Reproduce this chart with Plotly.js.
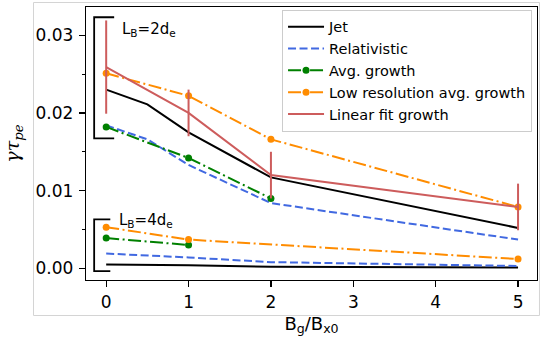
<!DOCTYPE html>
<html><head><meta charset="utf-8">
<script src="https://cdn.plot.ly/plotly-3.0.1.min.js"></script>
<style>html,body{margin:0;padding:0;background:#fff;}#plot{width:540px;height:337px;}</style>
</head><body><div id="plot"></div>
<script>
// L_B = 2 d_e
var jetX2 = [0, 0.5, 1, 2, 5];
var jetY2 = [0.0230, 0.0211, 0.0175, 0.0117, 0.0052];
var relX2 = [0, 0.5, 1, 2, 5];
var relY2 = [0.0184, 0.0166, 0.0133, 0.0084, 0.0037];
var avgX2 = [0, 1, 2];
var avgY2 = [0.0182, 0.0142, 0.0090];
var lowX2 = [0, 1, 2, 5];
var lowY2 = [0.0251, 0.0222, 0.0166, 0.0079];
var fitX2 = [0, 1, 2, 5];
var fitY2 = [0.0259, 0.0200, 0.0120, 0.0079];
var fitErr2 = [0.0060, 0.0030, 0.0030, 0.0030];
// L_B = 4 d_e
var jetX4 = [0, 1, 2, 5];
var jetY4 = [0.0005, 0.0004, 0.0002, 0.0001];
var relX4 = [0, 1, 2, 5];
var relY4 = [0.0019, 0.0014, 0.0008, 0.0003];
var avgX4 = [0, 1];
var avgY4 = [0.0039, 0.0030];
var lowX4 = [0, 1, 5];
var lowY4 = [0.0053, 0.0037, 0.0012];

var cBlack = '#000000', cBlue = '#4169e1', cGreen = '#008000', cOrange = '#ff8c00', cRed = '#cd5c5c';
var LW = 2;
var dashed = '8px,3.5px';
var dashdot = '13px,3.5px,2px,3.5px';

var traces = [
  {x: jetX2, y: jetY2, mode: 'lines', name: 'Jet', line: {color: cBlack, width: LW}},
  {x: relX2, y: relY2, mode: 'lines', name: 'Relativistic', line: {color: cBlue, width: LW, dash: dashed}},
  {x: avgX2, y: avgY2, mode: 'lines+markers', name: 'Avg. growth', line: {color: cGreen, width: LW, dash: dashdot}, marker: {color: cGreen, size: 7}},
  {x: lowX2, y: lowY2, mode: 'lines+markers', name: 'Low resolution avg. growth', line: {color: cOrange, width: LW, dash: dashdot}, marker: {color: cOrange, size: 7}},
  {x: fitX2, y: fitY2, mode: 'lines', name: 'Linear fit growth', line: {color: cRed, width: LW},
   error_y: {type: 'data', array: fitErr2, visible: true, color: cRed, thickness: 2, width: 0}},
  {x: jetX4, y: jetY4, mode: 'lines', showlegend: false, line: {color: cBlack, width: LW}},
  {x: relX4, y: relY4, mode: 'lines', showlegend: false, line: {color: cBlue, width: LW, dash: dashed}},
  {x: avgX4, y: avgY4, mode: 'lines+markers', showlegend: false, line: {color: cGreen, width: LW, dash: dashdot}, marker: {color: cGreen, size: 7}},
  {x: lowX4, y: lowY4, mode: 'lines+markers', showlegend: false, line: {color: cOrange, width: LW, dash: dashdot}, marker: {color: cOrange, size: 7}}
];

var F = 'DejaVu Sans, sans-serif';
var layout = {
  width: 540, height: 337,
  margin: {l: 86, r: 3, t: 7, b: 57},
  paper_bgcolor: '#fff', plot_bgcolor: '#fff',
  font: {family: F, color: '#000'},
  showlegend: true,
  legend: {x: 0.989, y: 0.99, xanchor: 'right', yanchor: 'top',
    bgcolor: 'rgba(255,255,255,0.8)', bordercolor: '#cccccc', borderwidth: 1,
    itemwidth: 36,
    font: {family: F, size: 14.5, color: '#000'}, tracegroupgap: 0},
  xaxis: {range: [-0.245, 5.23], tickvals: [0,1,2,3,4,5], ticks: 'outside', ticklen: 6, tickwidth: 1.2,
    tickcolor: '#000', showline: true, linecolor: '#000', linewidth: 1.3, mirror: true,
    showgrid: false, zeroline: false, tickfont: {size: 17, family: F},
    title: {text: 'B<sub>g</sub>/B<sub>x0</sub>', font: {size: 18, family: F}, standoff: 6}},
  yaxis: {range: [-0.0015, 0.03363], tickvals: [0, 0.01, 0.02, 0.03], tickformat: '.2f', ticks: 'outside', ticklen: 6, tickwidth: 1.2,
    tickcolor: '#000', showline: true, linecolor: '#000', linewidth: 1.3, mirror: true,
    showgrid: false, zeroline: false, tickfont: {size: 17, family: F}, ticklabelstandoff: 2,
    minor: {tickvals: [0.005, 0.015, 0.025], ticks: 'outside', ticklen: 3, tickcolor: '#000', tickwidth: 1},
    title: {text: '<i>γτ</i><sub><i>pe</i></sub>', font: {size: 19, family: 'DejaVu Serif, serif'}, standoff: 10}},
  shapes: [
    {type: 'rect', xref: 'paper', yref: 'paper', x0: -0.1164, x1: 1.0055, y0: -0.130, y1: 1.0165,
     line: {color: '#d4d4d4', width: 1}, layer: 'below'},
    {type: 'path', xref: 'x', yref: 'y', path: 'M 0.097 0.03231 L -0.146 0.03231 L -0.146 0.01673 L 0.097 0.01673',
     line: {color: '#000', width: 1.8}},
    {type: 'path', xref: 'x', yref: 'y', path: 'M 0.05 0.0063 L -0.146 0.0063 L -0.146 -0.00035 L 0.05 -0.00035',
     line: {color: '#000', width: 1.8}}
  ],
  annotations: [
    {x: 0.17, y: 0.0307, xref: 'x', yref: 'y', xanchor: 'left', yanchor: 'middle', showarrow: false,
     text: 'L<sub>B</sub>=2d<sub>e</sub>', font: {size: 15, family: F}},
    {x: 0.13, y: 0.0062, xref: 'x', yref: 'y', xanchor: 'left', yanchor: 'middle', showarrow: false,
     text: 'L<sub>B</sub>=4d<sub>e</sub>', font: {size: 15, family: F}}
  ]
};
Plotly.newPlot('plot', traces, layout, {displayModeBar: false, staticPlot: true});
</script></body></html>
